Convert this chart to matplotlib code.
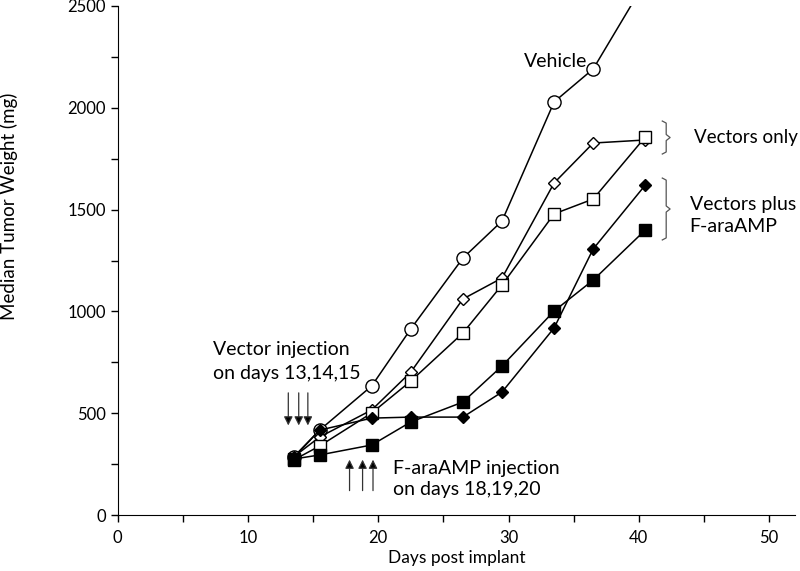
import numpy as np
import matplotlib.pyplot as plt

plt.rcParams['font.family'] = ['Lato', 'DejaVu Sans']

# days post implant and median tumor weights (mg)
days = [13.5, 15.5, 19.5, 22.5, 26.5, 29.5, 33.5, 36.5, 40.5]
vehicle = [285, 417, 634, 914, 1262, 1444, 2029, 2191, 2620]
vec_diamond = [285, 383, 516, 702, 1061, 1164, 1631, 1827, 1842]
vec_square = [270, 339, 501, 658, 894, 1130, 1479, 1552, 1857]
plus_diamond = [280, 417, 476, 481, 481, 604, 919, 1307, 1621]
plus_square = [275, 295, 344, 457, 555, 732, 1002, 1154, 1400]

vector_days = [13.1, 13.9, 14.6]
araamp_days = [17.8, 18.8, 19.6]

fig = plt.figure(figsize=(8, 5.71), dpi=100)
ax = fig.add_axes([0.147, 0.098, 0.847, 0.8915])

kw = dict(color='black', lw=1.1, mec='black', mew=1.0)
ax.plot(days, vehicle, marker='o', ms=9.5, mfc='white', **kw)
ax.plot(days, vec_diamond, marker='D', ms=6.5, mfc='white', **kw)
ax.plot(days, vec_square, marker='s', ms=9, mfc='white', **kw)
ax.plot(days, plus_diamond, marker='D', ms=6.5, mfc='black', **kw)
ax.plot(days, plus_square, marker='s', ms=9, mfc='black', **kw)

ax.set_xlim(0, 52)
ax.set_ylim(0, 2500)
ax.set_xticks(range(0, 51, 10))
ax.set_xticks(range(0, 51, 5), minor=True)
ax.set_yticks(range(0, 2501, 500))
ax.set_yticks(range(0, 2501, 250), minor=True)
ax.spines['top'].set_visible(False)
ax.spines['right'].set_visible(False)
ax.tick_params(which='both', direction='out', width=1.0, labelsize=12, colors='black')
ax.tick_params(axis='x', which='both', length=5, pad=6)
ax.tick_params(axis='y', which='both', length=5)
ax.set_xlabel('Days post implant', fontsize=12.5, labelpad=3)
ax.set_ylabel('Median Tumor Weight (mg)', fontsize=13.5)
ax.yaxis.set_label_coords(-0.147, 0.607)

# arrows for injection days
arrow = dict(arrowstyle='-|>', fc='black', ec='#333333', lw=0.9,
             mutation_scale=13, shrinkA=0, shrinkB=0)
for d in vector_days:
    ax.annotate('', xy=(d, 440), xytext=(d, 600), arrowprops=arrow)
for d in araamp_days:
    ax.annotate('', xy=(d, 272), xytext=(d, 120), arrowprops=arrow)

tfs = 14
ax.text(7.3, 815, 'Vector injection', fontsize=tfs, va='center')
ax.text(7.3, 697, 'on days 13,14,15', fontsize=tfs, va='center')
ax.text(21.1, 231, 'F-araAMP injection', fontsize=tfs, va='center')
ax.text(21.1, 123, 'on days 18,19,20', fontsize=tfs, va='center')
ax.text(31.2, 2225, 'Vehicle', fontsize=tfs, va='center')
ax.text(44.2, 1852, 'Vectors only', fontsize=13.5, va='center')
ax.text(43.9, 1523, 'Vectors plus', fontsize=tfs, va='center')
ax.text(43.9, 1415, 'F-araAMP', fontsize=tfs, va='center')

# curly-ish brackets
def bracket(top, bottom):
    mid = (top + bottom) / 2
    xs = [41.8, 42.1, 42.1, 42.4, 42.1, 42.1, 41.8]
    ys = [top, top - 10, mid + 15, mid, mid - 15, bottom + 10, bottom]
    ax.plot(xs, ys, color='#555555', lw=0.9, clip_on=False)

bracket(1935, 1773)
bracket(1655, 1351)

fig.savefig('out.png', dpi=100)
